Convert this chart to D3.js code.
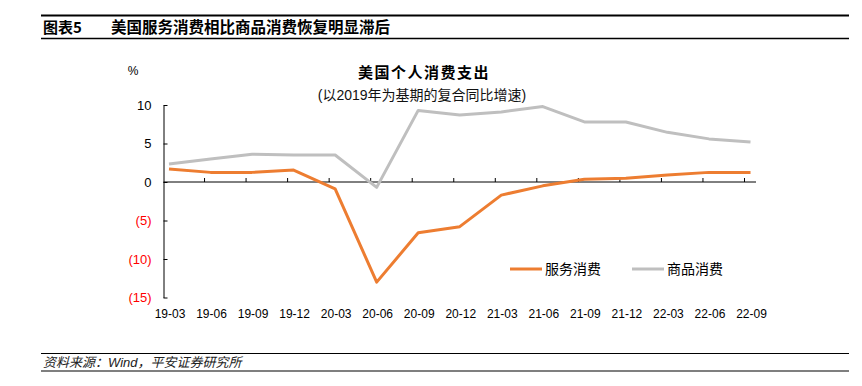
<!DOCTYPE html>
<html>
<head>
<meta charset="utf-8">
<script src="https://cdn.jsdelivr.net/npm/d3@7/dist/d3.min.js"></script>
<style>
  html, body { margin: 0; padding: 0; background: #fff; }
  svg { display: block; }
  text { font-family: "Liberation Sans", Arial, "Noto Sans CJK SC", sans-serif; }
</style>
</head>
<body>
<svg id="chart" width="862" height="386"></svg>
<script>
const categories = ["19-03","19-06","19-09","19-12","20-03","20-06","20-09","20-12","21-03","21-06","21-09","21-12","22-03","22-06","22-09"];
const services = [1.7, 1.25, 1.25, 1.55, -0.9, -13.0, -6.6, -5.8, -1.7, -0.5, 0.35, 0.5, 0.9, 1.25, 1.25];
const goods = [2.35, 3.0, 3.6, 3.5, 3.5, -0.7, 9.3, 8.7, 9.1, 9.8, 7.8, 7.8, 6.45, 5.6, 5.2];
const yTicks = [10, 5, 0, -5, -10, -15];
const seriesNames = ["服务消费", "商品消费"];
const colors = ["#ED7D31", "#BFBFBF"];

const svg = d3.select("#chart");
const cjk = '"Noto Sans CJK SC", "Liberation Sans", sans-serif';

// Header
svg.append("line").attr("x1", 41).attr("x2", 849).attr("y1", 15.5).attr("y2", 15.5)
  .attr("stroke", "#000").attr("stroke-width", 1.8);
svg.append("line").attr("x1", 41).attr("x2", 849).attr("y1", 38.5).attr("y2", 38.5)
  .attr("stroke", "#000").attr("stroke-width", 1.3);
svg.append("text").attr("x", 43).attr("y", 33).attr("font-size", 15).attr("font-weight", "bold")
  .style("font-family", cjk).text("图表5");
svg.append("text").attr("x", 111).attr("y", 33).attr("font-size", 15.5).attr("font-weight", "bold")
  .style("font-family", cjk).text("美国服务消费相比商品消费恢复明显滞后");

// Footer
svg.append("line").attr("x1", 41).attr("x2", 849).attr("y1", 353.5).attr("y2", 353.5)
  .attr("stroke", "#000").attr("stroke-width", 1.2);
svg.append("line").attr("x1", 41).attr("x2", 849).attr("y1", 371).attr("y2", 371)
  .attr("stroke", "#000").attr("stroke-width", 1.2);
svg.append("text").attr("x", 43).attr("y", 367).attr("font-size", 13).attr("font-style", "italic")
  .attr("fill", "#222").style("font-family", '"Liberation Sans", "Noto Sans CJK SC", sans-serif')
  .text("资料来源：Wind，平安证券研究所");

// Scales
const x = d3.scaleLinear().domain([0, categories.length - 1]).range([169, 750.5]);
const y = d3.scaleLinear().domain([-15, 10]).range([297.5, 105]);
const step = x(1) - x(0);
const axisLeftX = 163.5;
const axisRightX = x(categories.length - 1) + 5.5;

// Titles
svg.append("text").attr("x", 424).attr("y", 78).attr("text-anchor", "middle")
  .attr("font-size", 15).attr("font-weight", "bold").attr("letter-spacing", 1.5)
  .style("font-family", cjk).text("美国个人消费支出");
svg.append("text").attr("x", 422).attr("y", 100).attr("text-anchor", "middle")
  .attr("font-size", 14).attr("fill", "#111")
  .text("(以2019年为基期的复合同比增速)");
svg.append("text").attr("x", 133).attr("y", 75).attr("text-anchor", "middle")
  .attr("font-size", 12).text("%");

// Y axis
const yAxis = d3.axisLeft(y).tickValues(yTicks).tickSizeInner(-4).tickSizeOuter(0).tickPadding(12)
  .tickFormat(d => d < 0 ? "(" + Math.abs(d) + ")" : d);
const gy = svg.append("g").attr("transform", `translate(${axisLeftX},0)`).call(yAxis);
gy.select(".domain").attr("stroke", "#000");
gy.selectAll(".tick line").attr("stroke", "#000");
gy.selectAll(".tick text").attr("font-size", 13).attr("fill", d => d < 0 ? "#FF0000" : "#000")
  .style("font-family", '"Liberation Sans", Arial, sans-serif');

// X axis line at zero
svg.append("line").attr("x1", axisLeftX).attr("x2", axisRightX).attr("y1", y(0)).attr("y2", y(0))
  .attr("stroke", "#000").attr("stroke-width", 1);
svg.append("g").selectAll("line").data(categories.slice(1)).join("line")
  .attr("x1", (d, i) => x(i + 1) - 6).attr("x2", (d, i) => x(i + 1) - 6)
  .attr("y1", y(0)).attr("y2", y(0) - 4).attr("stroke", "#000");
svg.append("g").selectAll("text").data(categories).join("text")
  .attr("x", (d, i) => x(i) + 1).attr("y", 318).attr("text-anchor", "middle")
  .attr("font-size", 12).text(d => d);

// Lines
const line = d3.line().x((d, i) => x(i)).y(d => y(d));
[goods, services].forEach((s, k) => {
  svg.append("path").datum(s).attr("d", line).attr("fill", "none")
    .attr("stroke", k === 0 ? colors[1] : colors[0]).attr("stroke-width", 3)
    .attr("stroke-linejoin", "round");
});

// Legend
const legendX = [510, 632];
seriesNames.forEach((n, i) => {
  svg.append("line").attr("x1", legendX[i]).attr("x2", legendX[i] + 32).attr("y1", 269).attr("y2", 269)
    .attr("stroke", colors[i]).attr("stroke-width", 3);
  svg.append("text").attr("x", legendX[i] + 35).attr("y", 274).attr("font-size", 14)
    .style("font-family", cjk).text(n);
});
</script>
</body>
</html>
